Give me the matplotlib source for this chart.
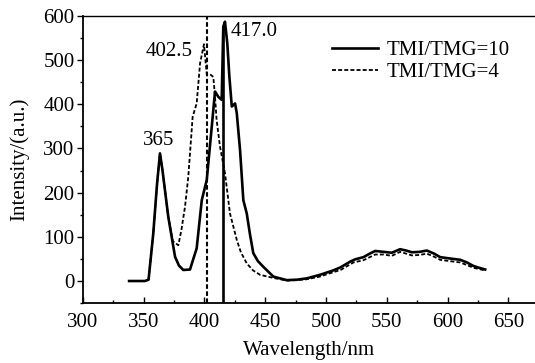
import matplotlib
matplotlib.use("Agg")
import matplotlib.pyplot as plt
from matplotlib.ticker import MultipleLocator

plt.rcParams['font.family'] = ['Liberation Serif', 'DejaVu Serif']

# TMI/TMG=10 (solid)
wl10 = [338, 345, 351, 354, 357.9, 361, 363.4, 365.5, 370.2, 375.8, 379, 382.6, 388.1,
        393.6, 397.8, 401.9, 406, 408.7, 411.4, 414.2, 415.5, 416.9, 418.8, 420.5,
        422.5, 425.2, 426.6, 429.3, 432, 434.8, 437.5, 440.2, 444, 448.5, 456.7, 467.7,
        476, 484.2, 495, 506, 512, 520, 524, 530.8, 536, 540.5, 547.3, 554.2, 561,
        566, 570.7, 577, 583, 589, 594, 602, 610.5, 616, 621.4, 626, 631]
int10 = [0, 0, 0, 3, 108, 220, 289, 250, 146, 55, 35, 25, 26,
         74, 183, 229, 349, 429, 417, 410, 576, 587, 538, 463,
         395, 402, 380, 296, 183, 153, 105, 63, 45, 32, 10, 2,
         3, 6, 14, 24, 31, 44, 49, 54, 62, 68, 66, 64, 72,
         69, 65, 66, 69, 62, 54, 51, 48, 42, 34, 30, 26]

# TMI/TMG=4 (dashed)
wl4 = [338, 345, 351, 354, 357.9, 361, 363.4, 365.5, 370.2, 374, 378.5, 381, 384,
       386.7, 390.3, 393.6, 396.4, 399.6, 401.9, 404.6, 407.3, 408.7, 410, 412.8,
       416.9, 421, 426.6, 430, 434.8, 440, 445.8, 456.7, 468, 476, 484.2, 495, 506,
       512, 522.6, 530.8, 536, 540.5, 547.3, 554.2, 561, 566, 570.7, 577, 583, 589,
       594, 602, 610.5, 616, 621.4, 626, 631]
int4 = [0, 0, 0, 3, 108, 220, 289, 250, 146, 90, 81, 115, 168,
        236, 372, 402, 493, 536, 468, 468, 462, 417, 365, 304,
        244, 153, 93, 65, 40, 24, 14, 7, 1, 2, 4, 10, 20,
        25, 42, 47, 54, 60, 60, 57, 66, 62, 58, 59, 62, 55,
        48, 45, 42, 36, 30, 27, 24]

# vertical spikes
spike_x = [401.7, 415.3]
spike_top = [600, 576]
spike_style = ['--', '-']

peak_labels = ['365', '402.5', '417.0']
peak_x = [362.6, 370.8, 421.5]
peak_y = [319, 519, 564]

FS = 15

fig = plt.figure(figsize=(5.35, 3.63), dpi=100)
ax = fig.add_axes([0.155, 0.165, 0.845, 0.791])

ax.plot(wl10, int10, color='black', lw=1.9, ls='-', label='TMI/TMG=10')
ax.plot(wl4, int4, color='black', lw=1.3, ls=(0, (2.2, 1.2)), label='TMI/TMG=4')
for x, t, s in zip(spike_x, spike_top, spike_style):
    if s == '-':
        ax.vlines(x, -50, t, color='black', lw=1.9, linestyles='-')
    else:
        ax.vlines(x, -50, t, color='black', lw=1.5, linestyles=[(0, (2.2, 1.2))])

ax.text(peak_x[0], peak_y[0], peak_labels[0], ha='center', va='center', fontsize=FS)
ax.text(peak_x[1], peak_y[1], peak_labels[1], ha='center', va='center', fontsize=FS)
ax.text(peak_x[2], peak_y[2], peak_labels[2], ha='left', va='center', fontsize=FS)

ax.set_xlim(300, 672)
ax.set_ylim(-50, 600)
ax.xaxis.set_major_locator(MultipleLocator(50))
ax.xaxis.set_minor_locator(MultipleLocator(25))
ax.yaxis.set_major_locator(MultipleLocator(100))
ax.yaxis.set_minor_locator(MultipleLocator(50))
ax.set_xticks(range(300, 651, 50))
ax.tick_params(axis='x', which='major', direction='in', length=4, width=1, labelsize=FS, pad=7)
ax.tick_params(axis='x', which='minor', direction='in', length=2.5, width=1)
ax.tick_params(axis='y', which='major', direction='out', length=4, width=1, labelsize=FS, pad=2)
ax.tick_params(axis='y', which='minor', direction='out', length=2, width=1)
ax.spines['right'].set_visible(False)
for sp in ['left', 'bottom']:
    ax.spines[sp].set_linewidth(1.3)
ax.spines['top'].set_linewidth(1.0)

ax.set_xlabel('Wavelength/nm', fontsize=FS, labelpad=6.5)
ax.set_ylabel('Intensity/(a.u.)', fontsize=FS, labelpad=10.5)

leg = ax.legend(loc='upper left', bbox_to_anchor=(0.533, 0.944), frameon=False, fontsize=FS,
                handlelength=2.2, handletextpad=0.43, labelspacing=0.13, borderaxespad=0)

fig.savefig('out.png', dpi=100)
